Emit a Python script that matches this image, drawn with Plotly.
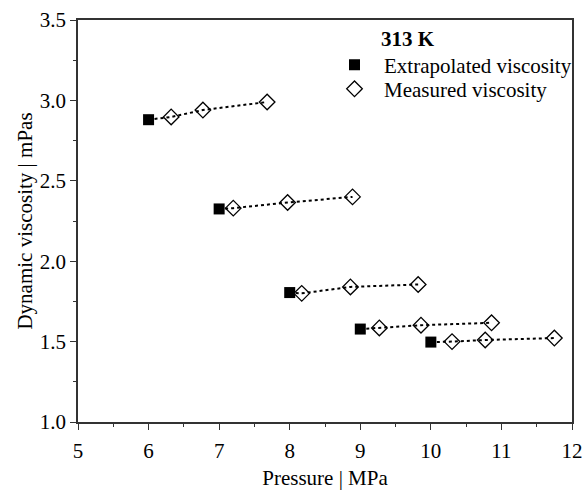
import plotly.graph_objects as go

# Data
ext_p = [6.0, 7.0, 8.0, 9.0, 10.0]
ext_v = [2.88, 2.325, 1.805, 1.578, 1.497]
meas_p = [[6.32, 6.77, 7.68], [7.20, 7.97, 8.89], [8.17, 8.86, 9.82],
          [9.27, 9.86, 10.86], [10.30, 10.77, 11.75]]
meas_v = [[2.897, 2.94, 2.99], [2.33, 2.365, 2.40], [1.80, 1.84, 1.855],
          [1.585, 1.602, 1.617], [1.50, 1.51, 1.522]]
x_ticks = [5, 6, 7, 8, 9, 10, 11, 12]
y_ticks = [1.0, 1.5, 2.0, 2.5, 3.0, 3.5]

FONT = "Liberation Serif"
FS = 21
fig = go.Figure()

# dotted connecting lines per group
lx, ly = [], []
for p0, v0, ps, vs in zip(ext_p, ext_v, meas_p, meas_v):
    lx += [p0] + ps + [None]
    ly += [v0] + vs + [None]
fig.add_trace(go.Scatter(x=lx, y=ly, mode="lines", showlegend=False,
                         line=dict(color="black", width=2, dash="dot"),
                         hoverinfo="skip"))

fig.add_trace(go.Scatter(x=ext_p, y=ext_v, mode="markers", name="Extrapolated viscosity",
                         legend="legend",
                         marker=dict(symbol="square", size=11, color="black",
                                     line=dict(width=0))))
mx = [p for g in meas_p for p in g]
my = [v for g in meas_v for v in g]
fig.add_trace(go.Scatter(x=mx, y=my, mode="markers", name="Measured viscosity",
                         legend="legend2",
                         marker=dict(symbol="diamond-open", size=12, color="black",
                                     line=dict(width=1.3, color="black"))))

axis_common = dict(showline=True, linecolor="#333", linewidth=1.5, mirror=True,
                   ticks="outside", ticklen=6, tickwidth=1.3, tickcolor="#333",
                   showgrid=False, zeroline=False, automargin=False,
                   tickfont=dict(family=FONT, size=FS, color="black"),
                   minor=dict(ticks="outside", ticklen=3, tickwidth=1.2, tickcolor="#333"))

fig.update_xaxes(range=[5, 12], tickvals=x_ticks, ticktext=[str(t) for t in x_ticks],
                 minor_dtick=0.5, ticklabelstandoff=3,
                 title=dict(text="Pressure | MPa", font=dict(family=FONT, size=FS, color="black"),
                            standoff=10),
                 **axis_common)
fig.update_yaxes(range=[1.0, 3.5], tickvals=y_ticks, ticktext=[f"{t:.1f}" for t in y_ticks],
                 minor_dtick=0.25,
                 title=dict(text="Dynamic viscosity | mPas", font=dict(family=FONT, size=FS, color="black"),
                            standoff=1),
                 **axis_common)

fig.add_annotation(xref="paper", yref="paper", x=0.609, y=0.952, xanchor="left", yanchor="middle",
                   text="<b>313 K</b>", showarrow=False,
                   font=dict(family=FONT, size=FS, color="black"))

leg_common = dict(xanchor="left", yanchor="middle", bgcolor="rgba(0,0,0,0)",
                  borderwidth=0, itemwidth=49,
                  font=dict(family=FONT, size=FS, color="black"))

fig.update_layout(
    width=587, height=490,
    margin=dict(l=78, r=10, t=20, b=68),
    plot_bgcolor="white", paper_bgcolor="white",
    font=dict(family=FONT, size=FS, color="black"),
    legend=dict(x=0.5, y=0.888, **leg_common),
    legend2=dict(x=0.5, y=0.828, **leg_common),
)

fig.write_html("out.html")
